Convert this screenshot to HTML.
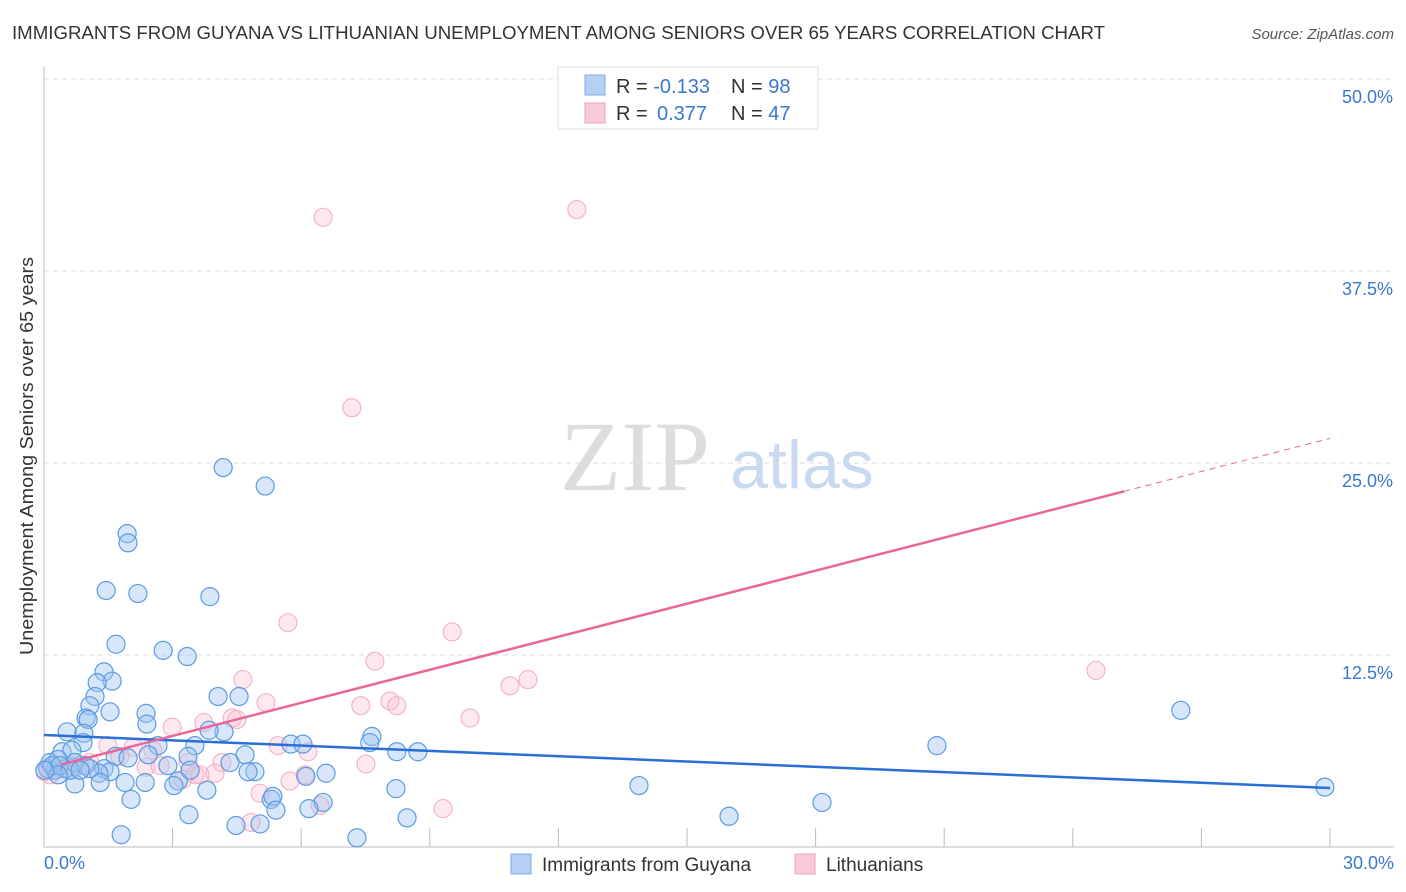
<!DOCTYPE html>
<html><head><meta charset="utf-8"><style>
body{margin:0;background:#fff;font-family:"Liberation Sans",sans-serif;}
svg{display:block}
</style></head><body>
<svg id="c" width="1406" height="892">
<text x="12" y="39" font-size="18" fill="#333" textLength="1093" lengthAdjust="spacingAndGlyphs">IMMIGRANTS FROM GUYANA VS LITHUANIAN UNEMPLOYMENT AMONG SENIORS OVER 65 YEARS CORRELATION CHART</text>
<text x="1394" y="39" font-size="15" fill="#555" font-style="italic" text-anchor="end">Source: ZipAtlas.com</text>
<g>
<text x="635" y="490" font-size="100" fill="#ddd" font-family="Liberation Serif,serif" text-anchor="middle">ZIP</text>
<text x="802" y="488" font-size="68" fill="#c9d9ef" text-anchor="middle">atlas</text>
</g>
<g id="grid"></g>
<g id="marks"></g>
<text transform="translate(33,456) rotate(-90)" font-size="18" fill="#333" text-anchor="middle" textLength="398" lengthAdjust="spacingAndGlyphs">Unemployment Among Seniors over 65 years</text>
<text x="44" y="869" font-size="18" fill="#3a78d0">0.0%</text>
<text x="1394" y="869" font-size="18" fill="#3a78d0" text-anchor="end">30.0%</text>
<g>
<rect x="558" y="67" width="260" height="62" fill="#fff" stroke="#ddd"/>
<rect x="585" y="75" width="20" height="20" fill="#b5d0f3" stroke="#7eaae6"/>
<rect x="585" y="103" width="20" height="20" fill="#f9cbd9" stroke="#f0a3bc"/>
<text x="616" y="93" font-size="20" fill="#333">R = <tspan fill="#3a78d0">-0.133</tspan><tspan x="731">N = </tspan><tspan fill="#3a78d0">98</tspan></text>
<text x="616" y="120" font-size="20" fill="#333">R = <tspan x="657" fill="#3a78d0">0.377</tspan><tspan x="731">N = </tspan><tspan fill="#3a78d0">47</tspan></text>
</g>
<g>
<rect x="511" y="854" width="20" height="20" fill="#b5d0f3" stroke="#7eaae6"/>
<text x="542" y="871" font-size="19" fill="#333">Immigrants from Guyana</text>
<rect x="795" y="854" width="20" height="20" fill="#f9cbd9" stroke="#f0a3bc"/>
<text x="826" y="871" font-size="19" fill="#333">Lithuanians</text>
</g>
</svg>
<script>
const yTicks=[12.5,25,37.5,50];
const yTickLabels=["12.5%","25.0%","37.5%","50.0%"];
const xTicks=[3,6,9,12,15,18,21,24,27,30];
const blueX=[4.18,5.16,1.94,1.96,1.45,2.19,3.87,1.68,2.78,3.34,1.40,1.59,1.24,1.19,4.06,4.55,1.54,2.38,1.07,0.98,1.03,2.40,0.54,4.20,3.85,0.93,0.91,7.65,7.60,5.76,6.04,20.83,3.52,2.66,0.42,0.65,4.69,3.36,8.23,8.72,1.66,1.96,2.43,2.89,1.40,1.54,4.92,4.76,6.58,6.11,1.28,0.09,0.26,0.49,0.72,0.96,1.07,0.14,0.33,1.31,1.89,3.13,3.03,2.36,0.72,8.21,13.88,3.80,2.03,5.30,5.34,6.51,6.18,5.41,18.15,3.38,8.47,15.98,4.48,5.04,1.80,7.30,26.52,29.88,0.19,0.37,0.61,0.84,0.33,0.02,3.41,4.34];
const blueY=[24.7,23.5,20.4,19.8,16.7,16.5,16.3,13.2,12.8,12.4,11.4,10.8,10.7,9.8,9.8,9.8,8.8,8.7,9.2,8.4,8.3,8.0,7.5,7.5,7.6,7.4,6.8,7.2,6.8,6.7,6.7,6.6,6.6,6.6,6.2,6.3,6.0,5.9,6.2,6.2,5.9,5.8,6.0,5.3,5.1,4.9,4.9,4.9,4.8,4.6,4.8,5.1,5.0,5.1,5.5,5.3,5.1,5.5,5.7,4.2,4.2,4.3,4.0,4.2,4.1,3.8,4.0,3.7,3.1,3.1,3.3,2.9,2.5,2.4,2.9,2.1,1.9,2.0,1.4,1.5,0.8,0.6,8.9,3.9,5.3,5.3,5.0,5.0,4.7,5.0,5.0,5.5];
const pinkX=[6.51,12.43,7.18,5.69,9.52,7.72,4.64,24.54,10.87,11.29,5.18,7.39,8.07,8.23,9.94,4.39,2.99,3.73,4.50,1.49,2.08,2.54,5.46,6.16,7.51,4.15,3.36,2.38,3.24,3.99,3.52,5.74,5.04,6.44,9.31,4.83,0.14,0.26,0.42,0.61,0.84,1.07,1.77,0.02,2.71,3.64,6.09];
const pinkY=[41.0,41.5,28.6,14.6,14.0,12.1,10.9,11.5,10.5,10.9,9.4,9.2,9.5,9.2,8.4,8.4,7.8,8.1,8.3,6.6,6.5,6.3,6.6,6.2,5.4,5.5,5.5,5.2,4.4,4.8,4.7,4.3,3.5,2.7,2.5,1.6,4.7,5.0,5.1,5.3,5.3,5.5,5.9,4.9,5.3,4.7,4.7];
const blueTrend=[7.29,3.84];
const pinkTrend=[5.08,26.6];
const pinkSolidEnd=25.2;
const NS='http://www.w3.org/2000/svg';
const sx=v=>44+v*(1286/30);
const sy=v=>847-v*(768/50);
function mk(tag,attrs,parent){const e=document.createElementNS(NS,tag);for(const k in attrs)e.setAttribute(k,attrs[k]);parent.appendChild(e);return e;}
const grid=document.getElementById('grid'),marks=document.getElementById('marks');
yTicks.forEach((t,i)=>{
 const l=mk('line',{x1:44,x2:1394,y1:sy(t),y2:sy(t),stroke:'#ddd','stroke-dasharray':'5,4'},grid);
 
 
 const tx=mk('text',{x:1393,y:sy(t)+24,'font-size':18,fill:'#3a78d0','text-anchor':'end'},grid);
 tx.textContent=yTickLabels[i];
 
 
});
const ax=mk('path',{d:'M44,67V847H1394',stroke:'#bbb',fill:'none'},grid);


xTicks.forEach(t=>{
 const l=mk('line',{x1:sx(t),x2:sx(t),y1:828,y2:847,stroke:'#bbb'},grid);
 
 
});
pinkX.forEach((x,i)=>{
 const c=mk('circle',{cx:sx(x),cy:sy(pinkY[i]),r:9,fill:'rgba(248,190,210,0.35)',stroke:'#f4b0c6','stroke-width':1.1},marks);
 
 
});
blueX.forEach((x,i)=>{
 const c=mk('circle',{cx:sx(x),cy:sy(blueY[i]),r:9,fill:'rgba(160,196,240,0.42)',stroke:'#5b9be2','stroke-width':1.2},marks);
 
 
});
const bl=mk('line',{x1:sx(0),y1:sy(blueTrend[0]),x2:sx(30),y2:sy(blueTrend[1]),stroke:'#2a6fd6','stroke-width':2.5},marks);


const py=x=>pinkTrend[0]+(pinkTrend[1]-pinkTrend[0])*x/30;
const pl=mk('line',{x1:sx(0.4),y1:sy(py(0.4)),x2:sx(pinkSolidEnd),y2:sy(py(pinkSolidEnd)),stroke:'#e8669a','stroke-width':2.5},marks);


const pd=mk('line',{x1:sx(pinkSolidEnd),y1:sy(py(pinkSolidEnd)),x2:sx(30),y2:sy(py(30)),stroke:'#e8669a','stroke-width':1,'stroke-dasharray':'6,5'},marks);


</script>
</body></html>
